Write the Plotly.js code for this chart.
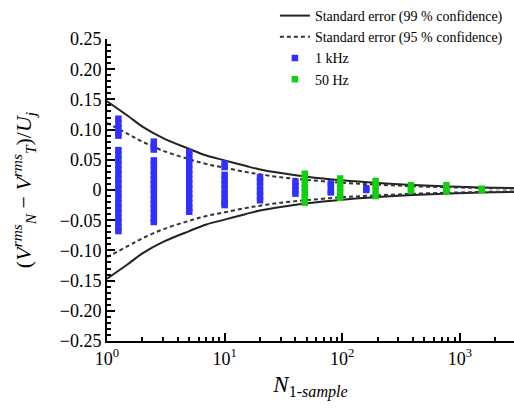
<!DOCTYPE html>
<html><head><meta charset="utf-8">
<script src="https://cdn.plot.ly/plotly-3.0.1.min.js"></script>
<style>html,body{margin:0;padding:0;background:#fff;}#chart{width:514px;height:414px;}</style>
</head><body><div id="chart"></div>
<script>
// Standard error envelopes
const seN = [1, 1.5, 2, 3, 5, 7, 10, 15, 20, 30, 50, 100, 200, 400, 800, 1500, 2900];
const se99Upper = [0.147, 0.123, 0.105, 0.086, 0.068, 0.057, 0.049, 0.040, 0.034, 0.028, 0.022, 0.016, 0.0115, 0.0082, 0.0058, 0.0043, 0.0032];
const se99Lower = [-0.147, -0.123, -0.105, -0.086, -0.068, -0.057, -0.049, -0.040, -0.034, -0.028, -0.022, -0.016, -0.0115, -0.0082, -0.0058, -0.0043, -0.0032];
const se95Upper = [0.111, 0.093, 0.080, 0.065, 0.051, 0.043, 0.037, 0.030, 0.026, 0.021, 0.0168, 0.012, 0.0088, 0.0063, 0.0045, 0.0033, 0.0024];
const se95Lower = [-0.111, -0.093, -0.080, -0.065, -0.051, -0.043, -0.037, -0.030, -0.026, -0.021, -0.0168, -0.012, -0.0088, -0.0063, -0.0045, -0.0033, -0.0024];

// 1 kHz samples: N values and the scatter of each group
const khzN = [1.25, 2.5, 5, 10, 20, 40, 80, 160];
const khzValues = [
  [0.118, 0.110, 0.102, 0.094, 0.090, 0.066, 0.058, 0.050, 0.042, 0.034, 0.026, 0.018, 0.010, 0.002, -0.006, -0.014, -0.022, -0.030, -0.038, -0.046, -0.054, -0.062, -0.068],
  [0.080, 0.072, 0.067, 0.049, 0.041, 0.033, 0.025, 0.017, 0.009, 0.001, -0.007, -0.015, -0.023, -0.031, -0.039, -0.047, -0.053],
  [0.063, 0.058, 0.050, 0.042, 0.034, 0.026, 0.018, 0.010, 0.002, -0.006, -0.014, -0.022, -0.030, -0.036],
  [0.044, 0.038, 0.025, 0.017, 0.009, 0.001, -0.007, -0.015, -0.021, -0.025],
  [0.021, 0.014, 0.006, -0.002, -0.010, -0.017],
  [0.014, 0.007, 0.000, -0.006],
  [0.011, 0.008, -0.002, -0.004],
  [0.003, 0.000]
];

// 50 Hz samples
const hzN = [48, 96, 192, 384, 768, 1536];
const hzValues = [
  [0.027, 0.019, 0.011, 0.003, -0.005, -0.013, -0.021],
  [0.019, 0.011, 0.003, -0.005, -0.013],
  [0.015, 0.007, -0.001, -0.010],
  [0.008, 0.000, -0.001],
  [0.008, 0.000, -0.002],
  [0.002, 0.000]
];

const yTickVals = [-0.25, -0.20, -0.15, -0.10, -0.05, 0, 0.05, 0.10, 0.15, 0.20, 0.25];
const yTickText = ["\u22120.25", "\u22120.20", "\u22120.15", "\u22120.10", "\u22120.05", "0", "0.05", "0.10", "0.15", "0.20", "0.25"];
const xTickVals = [1, 10, 100, 1000];
const xTickText = ["10<sup>0</sup>", "10<sup>1</sup>", "10<sup>2</sup>", "10<sup>3</sup>"];

function flatten(ns, vals) {
  const x = [], y = [];
  ns.forEach((n, i) => vals[i].forEach(v => { x.push(n); y.push(v); }));
  return {x, y};
}
const khz = flatten(khzN, khzValues);
const hz = flatten(hzN, hzValues);

const serif = "Times New Roman, Liberation Serif, DejaVu Serif, serif";
const traces = [
  {x: seN, y: se99Upper, mode: 'lines', line: {color: '#222', width: 2, shape: 'spline'}, name: 'Standard error (99 % confidence)'},
  {x: seN, y: se99Lower, mode: 'lines', line: {color: '#222', width: 2, shape: 'spline'}, showlegend: false},
  {x: seN, y: se95Upper, mode: 'lines', line: {color: '#333', width: 2, dash: '4px,3px', shape: 'spline'}, name: 'Standard error (95 % confidence)'},
  {x: seN, y: se95Lower, mode: 'lines', line: {color: '#333', width: 2, dash: '4px,3px', shape: 'spline'}, showlegend: false},
  {x: khz.x, y: khz.y, mode: 'markers', marker: {symbol: 'square', size: 6.5, color: '#3030ff'}, name: '1 kHz'},
  {x: hz.x, y: hz.y, mode: 'markers', marker: {symbol: 'square', size: 6.5, color: '#10d010'}, name: '50 Hz'}
];

const layout = {
  width: 514, height: 414,
  margin: {l: 107, r: 0, t: 38, b: 73},
  paper_bgcolor: '#fff', plot_bgcolor: '#fff',
  font: {family: serif, color: '#000', size: 17},
  showlegend: true,
  legend: {x: 0.985, xanchor: 'right', y: 1.13, yanchor: 'top', bgcolor: 'rgba(0,0,0,0)',
           font: {family: serif, size: 14}, tracegroupgap: 0, itemwidth: 30},
  xaxis: {type: 'log', range: [0, 3.46], tickvals: xTickVals, ticktext: xTickText,
          ticks: 'inside', ticklen: 8, tickwidth: 1.5, tickcolor: '#000',
          minor: {ticks: 'inside', ticklen: 4, tickcolor: '#000', dtick: 'D1'},
          showgrid: false, zeroline: false, showline: true, linecolor: '#000', linewidth: 2,
          tickfont: {family: serif, size: 18},
          title: {text: '<i>N</i><sub>1-<i>sample</i></sub>', font: {family: serif, size: 23}, standoff: 8}},
  yaxis: {range: [-0.25, 0.25], tickvals: yTickVals, ticktext: yTickText,
          ticks: 'inside', ticklen: 8, tickwidth: 1.5, tickcolor: '#000',
          minor: {ticks: 'inside', ticklen: 4, tickcolor: '#000', dtick: 0.01},
          showgrid: false, zeroline: false, showline: true, linecolor: '#000', linewidth: 2,
          tickfont: {family: serif, size: 18},
          title: {text: '(<i>V</i><sup><i>rms</i></sup><sub><i>N</i></sub> \u2212 <i>V</i><sup><i>rms</i></sup><sub><i>T</i></sub>)/<i>U</i><sub><i>j</i></sub>', font: {family: serif, size: 22}, standoff: 22}}
};

Plotly.newPlot('chart', traces, layout, {displayModeBar: false});
</script></body></html>
